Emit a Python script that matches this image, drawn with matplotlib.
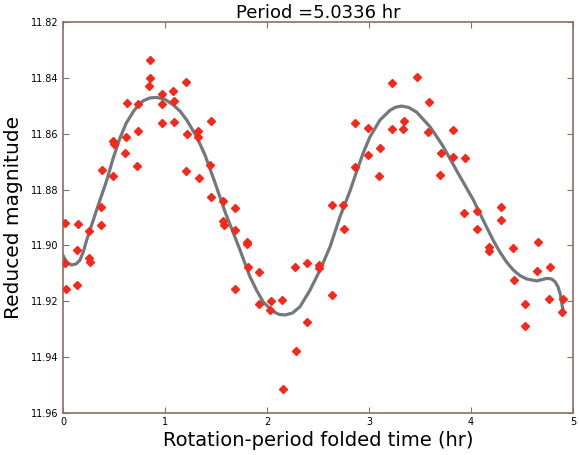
import numpy as np
import matplotlib
matplotlib.use("Agg")
import matplotlib.pyplot as plt

# folded observations (phase time in hr, reduced magnitude)
phase_time = [0.02, 0.02, 0.03, 0.134, 0.14, 0.15, 0.258, 0.258, 0.265, 0.373,
              0.375, 0.382, 0.487, 0.493, 0.5, 0.608, 0.618, 0.624, 0.729, 0.732,
              0.739, 0.843, 0.853, 0.853, 0.967, 0.967, 0.974, 1.082, 1.088, 1.091,
              1.203, 1.206, 1.212, 1.32, 1.327, 1.333, 1.441, 1.448, 1.451, 1.565,
              1.565, 1.578, 1.683, 1.683, 1.69, 1.8, 1.806, 1.817, 1.922, 1.922,
              2.029, 2.039, 2.15, 2.16, 2.275, 2.281, 2.392, 2.395, 2.506, 2.513,
              2.634, 2.637, 2.742, 2.755, 2.866, 2.866, 2.99, 2.99, 3.101, 3.108,
              3.222, 3.229, 3.337, 3.346, 3.467, 3.578, 3.585, 3.696, 3.706, 3.82,
              3.827, 3.934, 3.944, 4.055, 4.055, 4.173, 4.18, 4.291, 4.297, 4.415,
              4.418, 4.529, 4.532, 4.65, 4.654, 4.768, 4.775, 4.889, 4.899]
magnitude = [11.892, 11.9062, 11.9157, 11.9142, 11.9015, 11.8923, 11.8947, 11.9046, 11.9059, 11.8863,
             11.8928, 11.8731, 11.8625, 11.875, 11.8637, 11.867, 11.8611, 11.8491, 11.8716, 11.8589,
             11.8492, 11.843, 11.840, 11.8336, 11.8459, 11.8495, 11.8563, 11.8447, 11.8483, 11.8557,
             11.8414, 11.8733, 11.8601, 11.8612, 11.8589, 11.876, 11.8712, 11.8825, 11.8553, 11.884,
             11.8911, 11.8927, 11.8865, 11.8944, 11.9156, 11.8989, 11.8995, 11.9078, 11.9095, 11.9211,
             11.9231, 11.9199, 11.9195, 11.9515, 11.9076, 11.9377, 11.9273, 11.9064, 11.9082, 11.907,
             11.8855, 11.9177, 11.8855, 11.8942, 11.856, 11.8718, 11.858, 11.8676, 11.875, 11.865,
             11.8584, 11.8417, 11.8584, 11.8553, 11.8396, 11.8593, 11.8486, 11.8748, 11.8668, 11.8682,
             11.8587, 11.8885, 11.8688, 11.8876, 11.8941, 11.9019, 11.9004, 11.8909, 11.8863, 11.901,
             11.9124, 11.9211, 11.9288, 11.9092, 11.8989, 11.919, 11.9076, 11.924, 11.919]

# fitted light curve
fit_time = [0.0, 0.04, 0.085, 0.13, 0.167, 0.2, 0.232, 0.297, 0.363, 0.428,
            0.49, 0.559, 0.62, 0.689, 0.74, 0.787, 0.85, 0.919, 1.0, 1.081,
            1.15, 1.213, 1.311, 1.392, 1.49, 1.588, 1.66, 1.735, 1.833, 1.9,
            1.964, 2.062, 2.12, 2.176, 2.25, 2.324, 2.422, 2.52, 2.618, 2.716,
            2.814, 2.879, 2.94, 3.01, 3.108, 3.206, 3.26, 3.321, 3.39, 3.468,
            3.598, 3.66, 3.728, 3.873, 4.023, 4.154, 4.22, 4.284, 4.35, 4.415,
            4.48, 4.546, 4.644, 4.7, 4.742, 4.79, 4.824, 4.852, 4.873, 4.899]
fit_mag = [11.9036, 11.9062, 11.907, 11.9066, 11.9052, 11.9022, 11.8981, 11.8909, 11.8837, 11.8768,
           11.869, 11.8615, 11.8562, 11.8521, 11.8497, 11.8482, 11.8472, 11.847, 11.8477, 11.8497,
           11.852, 11.8551, 11.8611, 11.8676, 11.8775, 11.8879, 11.8946, 11.9016, 11.9112, 11.9162,
           11.9203, 11.9237, 11.9247, 11.9249, 11.9242, 11.9219, 11.916, 11.9088, 11.9005, 11.8897,
           11.8805, 11.8735, 11.8672, 11.8611, 11.8551, 11.8516, 11.8505, 11.8501, 11.8506, 11.8523,
           11.8575, 11.8608, 11.8646, 11.8741, 11.8837, 11.8935, 11.8983, 11.9024, 11.906, 11.9088,
           11.9108, 11.912, 11.9127, 11.9122, 11.9118, 11.912, 11.913, 11.9147, 11.9171, 11.9225]

period = 5.0336
spine_col = "#8a7068"

fig = plt.figure(figsize=(5.79, 4.55), dpi=100)
ax = fig.add_axes([0.1088, 0.0923, 0.8808, 0.8593])

ax.plot(fit_time, fit_mag, color="#72787c", lw=2.3, zorder=2, solid_joinstyle="round")
ax.plot(phase_time, magnitude, "D", color="#f5281c", mec="#f5281c", ms=4, zorder=3)

ax.set_xlim(0, 5)
ax.set_ylim(11.96, 11.82)
ax.set_xticks(np.arange(0, 6, 1))
ax.set_yticks(np.arange(11.82, 11.961, 0.02))
ax.set_yticklabels(["%.2f" % v for v in np.arange(11.82, 11.961, 0.02)])

ax.tick_params(direction="in", top=True, right=True, labelsize=7, length=4,
               color=spine_col, pad=3)
for s in ax.spines.values():
    s.set_color(spine_col)
    s.set_linewidth(1.2)

ax.set_title("Period =%.4f hr" % period, fontsize=13, pad=3)
ax.set_xlabel("Rotation-period folded time (hr)", fontsize=14, labelpad=3)
ax.set_ylabel("Reduced magnitude", fontsize=14.5, labelpad=6)

fig.savefig("out.png", dpi=100)
